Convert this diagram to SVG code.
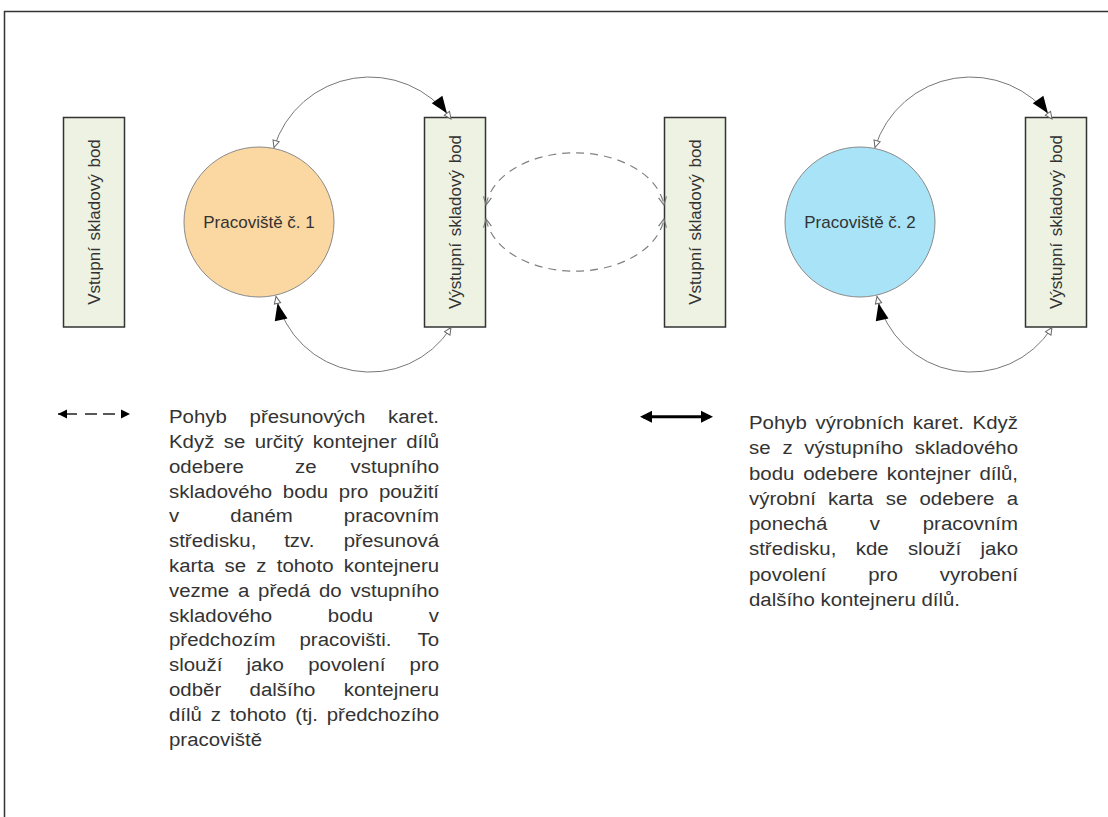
<svg xmlns="http://www.w3.org/2000/svg" width="1108" height="817" viewBox="0 0 1108 817">
<style>
.box{fill:#eef2e2;stroke:#333;stroke-width:1.5}
.circ{stroke:#8a8a8a;stroke-width:1}
.lbl{font-family:"Liberation Sans",Arial,sans-serif;font-size:17px;fill:#333;text-anchor:middle;word-spacing:2px}
.arc{fill:none;stroke:#777;stroke-width:1}
.dash{fill:none;stroke:#808080;stroke-width:1.2;stroke-dasharray:8 6}
.para{font-family:"Liberation Sans",Arial,sans-serif;font-size:17.6px;fill:#333}
.e{text-anchor:end}
</style>
<defs>
<marker id="hollow" markerUnits="userSpaceOnUse" orient="auto-start-reverse" markerWidth="10" markerHeight="10" refX="0" refY="0" style="overflow:visible">
<path d="M0,0 L-7,-3.2 L-7,3.2 Z" fill="#fff" stroke="#666" stroke-width="1"/>
</marker>
<marker id="black" markerUnits="userSpaceOnUse" orient="auto" markerWidth="10" markerHeight="10" refX="0" refY="0" style="overflow:visible">
<path d="M-7,0 L-24,-6.5 L-24,6.5 Z" fill="#000"/>
<path d="M0,0 L-7,-3.2 L-7,3.2 Z" fill="#fff" stroke="#666" stroke-width="1"/>
</marker>
<marker id="vtip" markerUnits="userSpaceOnUse" orient="auto-start-reverse" markerWidth="10" markerHeight="10" refX="0" refY="0" style="overflow:visible">
<path d="M-8,-4 L0,0 L-8,4" fill="none" stroke="#777" stroke-width="1.2"/>
</marker>
<marker id="legS" markerUnits="userSpaceOnUse" orient="auto-start-reverse" markerWidth="10" markerHeight="10" refX="0" refY="0" style="overflow:visible">
<path d="M0,0 L-9,-4.5 L-9,4.5 Z" fill="#000"/>
</marker>
<marker id="legB" markerUnits="userSpaceOnUse" orient="auto-start-reverse" markerWidth="10" markerHeight="10" refX="0" refY="0" style="overflow:visible">
<path d="M3,0 L-9,-6 L-9,6 Z" fill="#000"/>
</marker>
</defs>

<path id="frame" d="M4.5,817 V11.5 H1108" fill="none" stroke="#333" stroke-width="1.5"/>

<g id="vstup1">
<rect class="box" x="63.5" y="117.5" width="61" height="209.5"/>
<text class="lbl" transform="translate(100 222) rotate(-90)">Vstupní skladový bod</text>
</g>
<g id="pracoviste1">
<circle class="circ" cx="259" cy="222" r="75" fill="#fbd7a1"/>
<text class="lbl" x="259" y="227.5" style="word-spacing:0">Pracoviště č. 1</text>
</g>
<g id="vystup1">
<rect class="box" x="424.5" y="117.5" width="61" height="209.5"/>
<text class="lbl" transform="translate(461 222) rotate(-90)">Výstupní skladový bod</text>
</g>
<g id="vstup2">
<rect class="box" x="664.5" y="117.5" width="61" height="209.5"/>
<text class="lbl" transform="translate(701 222) rotate(-90)">Vstupní skladový bod</text>
</g>
<g id="pracoviste2">
<circle class="circ" cx="860" cy="222" r="75" fill="#a8e3f7"/>
<text class="lbl" x="860" y="227.5" style="word-spacing:0">Pracoviště č. 2</text>
</g>
<g id="vystup2">
<rect class="box" x="1025.5" y="117.5" width="61" height="209.5"/>
<text class="lbl" transform="translate(1062 222) rotate(-90)">Výstupní skladový bod</text>
</g>

<g id="connectors">
<path class="arc" d="M274,147.5 A100,100 0 0 1 451,119" marker-start="url(#hollow)" marker-end="url(#black)"/>
<path class="arc" d="M451,327.5 A96.1,96.1 0 0 1 276,296.5" marker-start="url(#hollow)" marker-end="url(#black)"/>
<path class="arc" d="M875,147.5 A100,100 0 0 1 1052,119" marker-start="url(#hollow)" marker-end="url(#black)"/>
<path class="arc" d="M1052,327.5 A96.1,96.1 0 0 1 877,296.5" marker-start="url(#hollow)" marker-end="url(#black)"/>
<path class="dash" d="M486.1,205 A89.5,59 0 0 1 663.9,205" marker-start="url(#vtip)" marker-end="url(#vtip)"/>
<path class="dash" d="M486.1,219 A89.5,59 0 0 0 663.9,219" marker-start="url(#vtip)" marker-end="url(#vtip)"/>
</g>

<g id="legend-presun">
<path d="M58,414 H130" fill="none" stroke="#222" stroke-width="1.5" stroke-dasharray="19 8 12 6 12 20" marker-start="url(#legS)" marker-end="url(#legS)"/>
<g class="para" transform="translate(169 0) scale(1.16 1)">
<text y="423.3"><tspan x="0">Pohyb</tspan><tspan x="69.5">přesunových</tspan><tspan class="e" x="232.8">karet.</tspan></text>
<text y="448.1"><tspan x="0">Když</tspan><tspan x="47.2">se</tspan><tspan x="73.9">určitý</tspan><tspan x="124">kontejner</tspan><tspan class="e" x="232.8">dílů</tspan></text>
<text y="472.9"><tspan x="0">odebere</tspan><tspan x="108.6">ze</tspan><tspan class="e" x="232.8">vstupního</tspan></text>
<text y="497.7"><tspan x="0">skladového</tspan><tspan x="98.1">bodu</tspan><tspan x="146.4">pro</tspan><tspan class="e" x="232.8">použití</tspan></text>
<text y="522.5"><tspan x="0">v</tspan><tspan x="52.9">daném</tspan><tspan class="e" x="232.8">pracovním</tspan></text>
<text y="547.3"><tspan x="0">středisku,</tspan><tspan x="99.3">tzv.</tspan><tspan class="e" x="232.8">přesunová</tspan></text>
<text y="572.1"><tspan x="0">karta</tspan><tspan x="47.9">se</tspan><tspan x="75.3">z</tspan><tspan x="92.9">tohoto</tspan><tspan class="e" x="232.8">kontejneru</tspan></text>
<text y="596.9"><tspan x="0">vezme</tspan><tspan x="59.4">a</tspan><tspan x="76.8">předá</tspan><tspan x="129.3">do</tspan><tspan class="e" x="232.8">vstupního</tspan></text>
<text y="621.7"><tspan x="0">skladového</tspan><tspan x="136.9">bodu</tspan><tspan class="e" x="232.8">v</tspan></text>
<text y="646.5"><tspan x="0">předchozím</tspan><tspan x="112.5">pracovišti.</tspan><tspan class="e" x="232.8">To</tspan></text>
<text y="671.3"><tspan x="0">slouží</tspan><tspan x="66.8">jako</tspan><tspan x="120">povolení</tspan><tspan class="e" x="232.8">pro</tspan></text>
<text y="696.1"><tspan x="0">odběr</tspan><tspan x="69.5">dalšího</tspan><tspan class="e" x="232.8">kontejneru</tspan></text>
<text y="720.9"><tspan x="0">dílů</tspan><tspan x="36">z</tspan><tspan x="52.3">tohoto</tspan><tspan x="108.8">(tj.</tspan><tspan class="e" x="232.8">předchozího</tspan></text>
<text y="745.7" x="0">pracoviště</text>
</g>
</g>

<g id="legend-vyrob">
<path d="M643,416.7 H710" fill="none" stroke="#000" stroke-width="3" marker-start="url(#legB)" marker-end="url(#legB)"/>
<g class="para" transform="translate(749 0) scale(1.16 1)">
<text y="429"><tspan x="0">Pohyb</tspan><tspan x="57.4">výrobních</tspan><tspan x="141.2">karet.</tspan><tspan class="e" x="231.9">Když</tspan></text>
<text y="454.3"><tspan x="0">se</tspan><tspan x="28.8">z</tspan><tspan x="47.7">výstupního</tspan><tspan class="e" x="231.9">skladového</tspan></text>
<text y="479.6"><tspan x="0">bodu</tspan><tspan x="46.7">odebere</tspan><tspan x="118.8">kontejner</tspan><tspan class="e" x="231.9">dílů,</tspan></text>
<text y="504.9"><tspan x="0">výrobní</tspan><tspan x="68.2">karta</tspan><tspan x="117.9">se</tspan><tspan x="147">odebere</tspan><tspan class="e" x="231.9">a</tspan></text>
<text y="530.2"><tspan x="0">ponechá</tspan><tspan x="104.2">v</tspan><tspan class="e" x="231.9">pracovním</tspan></text>
<text y="555.5"><tspan x="0">středisku,</tspan><tspan x="92">kde</tspan><tspan x="137">slouží</tspan><tspan class="e" x="231.9">jako</tspan></text>
<text y="580.8"><tspan x="0">povolení</tspan><tspan x="102.8">pro</tspan><tspan class="e" x="231.9">vyrobení</tspan></text>
<text y="606.1" x="0">dalšího kontejneru dílů.</text>
</g>
</g>
</svg>
